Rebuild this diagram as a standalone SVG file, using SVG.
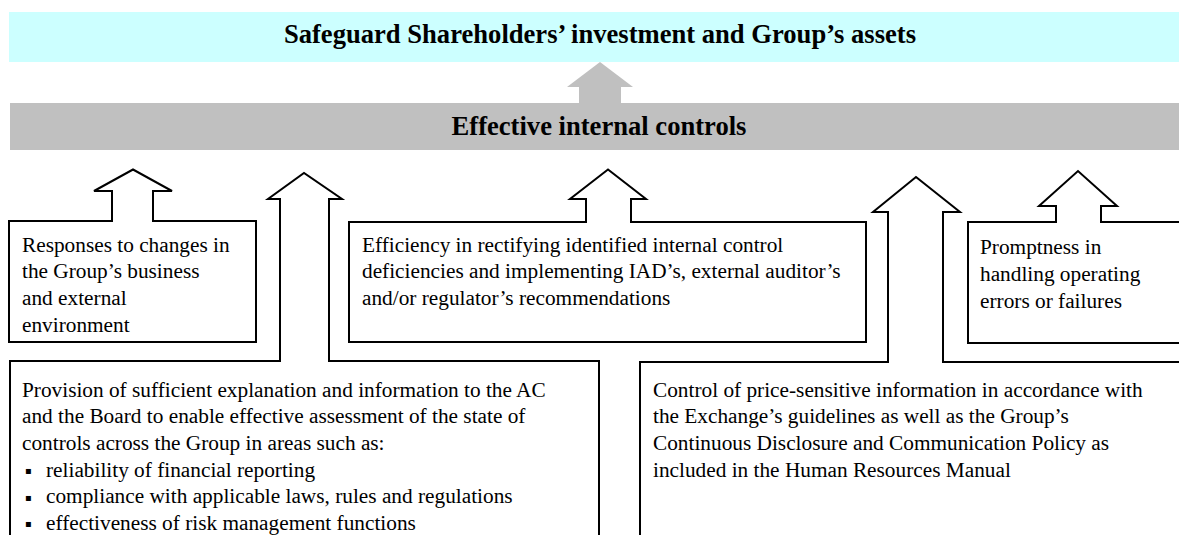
<svg xmlns="http://www.w3.org/2000/svg" width="1179" height="535" viewBox="0 0 1179 535">
<style>
.box{fill:#fff;stroke:#000;stroke-width:2;stroke-linejoin:miter}
.t{font-family:"Liberation Serif","Times New Roman",serif;font-size:21.3px;fill:#000}
.h{font-family:"Liberation Serif","Times New Roman",serif;font-size:26.6px;font-weight:bold;fill:#000;text-anchor:middle}
.b{font-family:"DejaVu Sans",sans-serif;font-size:10px;fill:#000}
</style>
<rect width="1179" height="535" fill="#fff"/>
<g id="goal">
<rect x="9" y="12" width="1180" height="50" fill="#CCFFFF"/>
<text class="h" x="600" y="43">Safeguard Shareholders’ investment and Group’s assets</text>
</g>
<g id="connectors">
<polygon points="579,103 579,87 567,87 600,62 633,87 621,87 621,103" fill="#C0C0C0"/>
</g>
<g id="controls">
<rect x="10" y="103" width="1180" height="47" fill="#C0C0C0"/>
<text class="h" x="599" y="135">Effective internal controls</text>
</g>
<g id="provision">
<path class="box" d="M10,545 V361 H280 V199 H268 L304,173 L342,199 H329 V361 H599 V545"/>
<text class="t" x="22" y="396.7">Provision of sufficient explanation and information to the AC</text>
<text class="t" x="22" y="423.3">and the Board to enable effective assessment of the state of</text>
<text class="t" x="22" y="450">controls across the Group in areas such as:</text>
<text class="b" x="25" y="474">▪</text>
<text class="t" x="46" y="476.7">reliability of financial reporting</text>
<text class="b" x="25" y="500.6">▪</text>
<text class="t" x="46" y="503.3">compliance with applicable laws, rules and regulations</text>
<text class="b" x="25" y="527.3">▪</text>
<text class="t" x="46" y="530">effectiveness of risk management functions</text>
</g>
<g id="disclosure">
<path class="box" d="M640,545 V362 H888 V212 H873 L916,177 L960,212 H943 V362 H1190"/>
<text class="t" x="653" y="396.7">Control of price-sensitive information in accordance with</text>
<text class="t" x="653" y="423.3">the Exchange’s guidelines as well as the Group’s</text>
<text class="t" x="653" y="450">Continuous Disclosure and Communication Policy as</text>
<text class="t" x="653" y="476.7">included in the Human Resources Manual</text>
</g>
<g id="responses">
<path class="box" d="M9,221 H112 V191 H94 L133,169.5 L172,191 H153 V221 H256 V342 H9 Z"/>
<text class="t" x="22" y="251.7">Responses to changes in</text>
<text class="t" x="22" y="278.3">the Group’s business</text>
<text class="t" x="22" y="305">and external</text>
<text class="t" x="22" y="331.7">environment</text>
</g>
<g id="efficiency">
<path class="box" d="M349,222 H586 V199 H570 L608,169.5 L646,199 H631 V222 H866 V342 H349 Z"/>
<text class="t" x="362" y="251.7">Efficiency in rectifying identified internal control</text>
<text class="t" x="362" y="278.3">deficiencies and implementing IAD’s, external auditor’s</text>
<text class="t" x="362" y="305">and/or regulator’s recommendations</text>
</g>
<g id="promptness">
<path class="box" d="M1190,222 H1101 V206 H1117 L1078,171 L1039,206 H1056 V222 H968 V343 H1190"/>
<text class="t" x="980" y="254">Promptness in</text>
<text class="t" x="980" y="281">handling operating</text>
<text class="t" x="980" y="307.5">errors or failures</text>
</g>
</svg>
